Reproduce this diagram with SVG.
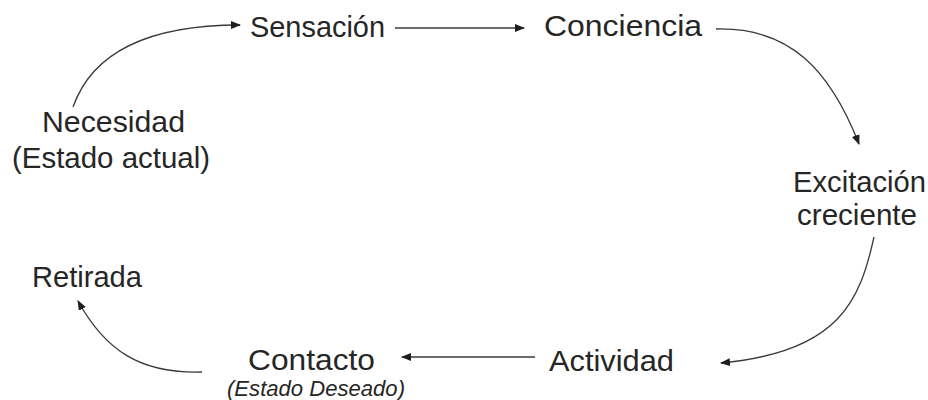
<svg xmlns="http://www.w3.org/2000/svg" width="928" height="400" viewBox="0 0 928 400">
<style>
.t{font-family:"Liberation Sans",Arial,sans-serif;font-size:29px;fill:#262626}
.i{font-family:"Liberation Sans",Arial,sans-serif;font-size:22px;font-style:italic;fill:#262626}
.c{fill:none;stroke:#3a3a3a;stroke-width:1.3}
</style>
<defs>
<marker id="ah" viewBox="0 0 10 8" refX="9" refY="4" markerWidth="10" markerHeight="8" markerUnits="userSpaceOnUse" orient="auto">
<path d="M0,0 L10,4 L0,8 Z" fill="#1e1e1e"/>
</marker>
</defs>
<rect width="928" height="400" fill="#fff"/>
<g id="connectors">
<path class="c" marker-end="url(#ah)" d="M73,107 C95,45 160,25 240,25"/>
<path class="c" marker-end="url(#ah)" d="M395,28 L524,28"/>
<path class="c" marker-end="url(#ah)" d="M716,29 C790,27 830,70 859,144"/>
<path class="c" marker-end="url(#ah)" d="M874,237 C860,300 840,352 721,363"/>
<path class="c" marker-end="url(#ah)" d="M535,357 L402,357"/>
<path class="c" marker-end="url(#ah)" d="M202,372 C140,374 105,350 78,301"/>
</g>
<g id="sensacion"><text class="t" x="250" y="37" textLength="135" lengthAdjust="spacingAndGlyphs">Sensación</text></g>
<g id="conciencia"><text class="t" x="544" y="36" textLength="158" lengthAdjust="spacingAndGlyphs">Conciencia</text></g>
<g id="necesidad">
<text class="t" x="42" y="132" textLength="143" lengthAdjust="spacingAndGlyphs">Necesidad</text>
<text class="t" x="12" y="168" textLength="198" lengthAdjust="spacingAndGlyphs">(Estado actual)</text>
</g>
<g id="excitacion">
<text class="t" x="793" y="192" textLength="133" lengthAdjust="spacingAndGlyphs">Excitación</text>
<text class="t" x="797" y="225" textLength="120" lengthAdjust="spacingAndGlyphs">creciente</text>
</g>
<g id="retirada"><text class="t" x="32" y="287" textLength="110" lengthAdjust="spacingAndGlyphs">Retirada</text></g>
<g id="contacto">
<text class="t" x="248" y="370" textLength="127" lengthAdjust="spacingAndGlyphs">Contacto</text>
<text class="i" x="227" y="396" textLength="178" lengthAdjust="spacingAndGlyphs">(Estado Deseado)</text>
</g>
<g id="actividad"><text class="t" x="549" y="371" textLength="125" lengthAdjust="spacingAndGlyphs">Actividad</text></g>
</svg>
